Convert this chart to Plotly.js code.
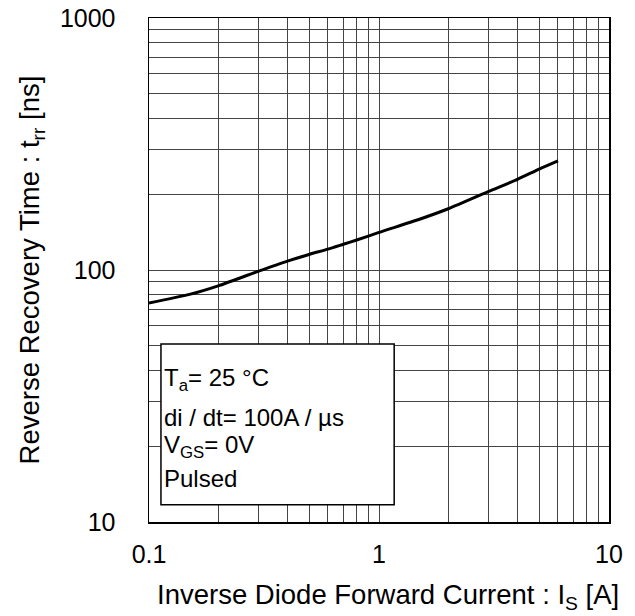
<!DOCTYPE html>
<html>
<head>
<meta charset="utf-8">
<script src="https://cdn.plot.ly/plotly-3.0.1.min.js"></script>
<style>html,body{margin:0;padding:0;background:#fff;}</style>
</head>
<body>
<div id="chart" style="width:635px;height:616px;"></div>
<script>
// Data
var current = [0.1, 0.15, 0.2, 0.3, 0.4, 0.5, 0.6, 0.7, 0.8, 1, 1.5, 2, 3, 4, 5, 6];
var trr = [74, 80, 86.5, 99, 108.5, 115.5, 121, 126.5, 131.5, 141, 159, 175, 205, 229, 252, 271];

// Tick values / labels
var xTickVals = [0.1,0.2,0.3,0.4,0.5,0.6,0.7,0.8,0.9,1,2,3,4,5,6,7,8,9,10];
var xTickText = ['0.1','','','','','','','','','1','','','','','','','','','10'];
var yTickVals = [10,20,30,40,50,60,70,80,90,100,200,300,400,500,600,700,800,900,1000];
var yTickText = ['10','','','','','','','','','100','','','','','','','','','1000'];

var conditions = ['T<sub>a</sub>= 25 °C', 'di / dt= 100A / µs', 'V<sub>GS</sub>= 0V', 'Pulsed'];
var xTitle = 'Inverse Diode Forward Current : I<sub>S</sub> [A]';
var yTitle = 'Reverse Recovery Time : t<sub>rr</sub> [ns]';

var FONT = 'Liberation Sans, Arial, Helvetica, sans-serif';

var trace = {
  x: current, y: trr, type: 'scatter', mode: 'lines',
  line: {color: '#000', width: 3, shape: 'spline', smoothing: 0.6},
  hoverinfo: 'skip', showlegend: false
};

var axisCommon = {
  type: 'log', showgrid: true, gridcolor: '#444', gridwidth: 1,
  showline: true, linecolor: '#000', linewidth: 1.5, mirror: true,
  ticks: '', zeroline: false, tickfont: {size: 25, color: '#000', family: FONT}
};

var lineYs = [0.282, 0.208, 0.149, 0.087];
var annotations = conditions.map(function(t, i) {
  return {
    xref: 'paper', yref: 'paper', x: 0.028, y: lineYs[i],
    xanchor: 'left', yanchor: 'middle', showarrow: false,
    text: t, font: {size: 24, color: '#000', family: FONT}
  };
});
annotations.push({
  xref: 'paper', yref: 'paper', x: 0.5196, y: -0.1488,
  xanchor: 'center', yanchor: 'middle', showarrow: false,
  text: xTitle, font: {size: 27.5, color: '#000', family: FONT}
});

var layout = {
  width: 635, height: 616,
  margin: {l: 149, r: 26, t: 18, b: 94},
  paper_bgcolor: '#fff', plot_bgcolor: '#fff',
  font: {family: FONT, color: '#000'},
  xaxis: Object.assign({}, axisCommon, {
    range: [-1, 1], tickvals: xTickVals, ticktext: xTickText,
    ticklabelstandoff: 9
  }),
  yaxis: Object.assign({}, axisCommon, {
    range: [1, 3], tickvals: yTickVals, ticktext: yTickText,
    ticklabelstandoff: 27,
    title: {text: yTitle, font: {size: 27.5, color: '#000', family: FONT}, standoff: 12}
  }),
  shapes: [{
    type: 'rect', xref: 'paper', yref: 'paper',
    x0: 0.026, x1: 0.533, y0: 0.034, y1: 0.353,
    line: {color: '#000', width: 1.5}, fillcolor: '#fff', layer: 'above'
  }],
  annotations: annotations
};

Plotly.newPlot('chart', [trace], layout, {displayModeBar: false, staticPlot: true});
</script>
</body>
</html>
